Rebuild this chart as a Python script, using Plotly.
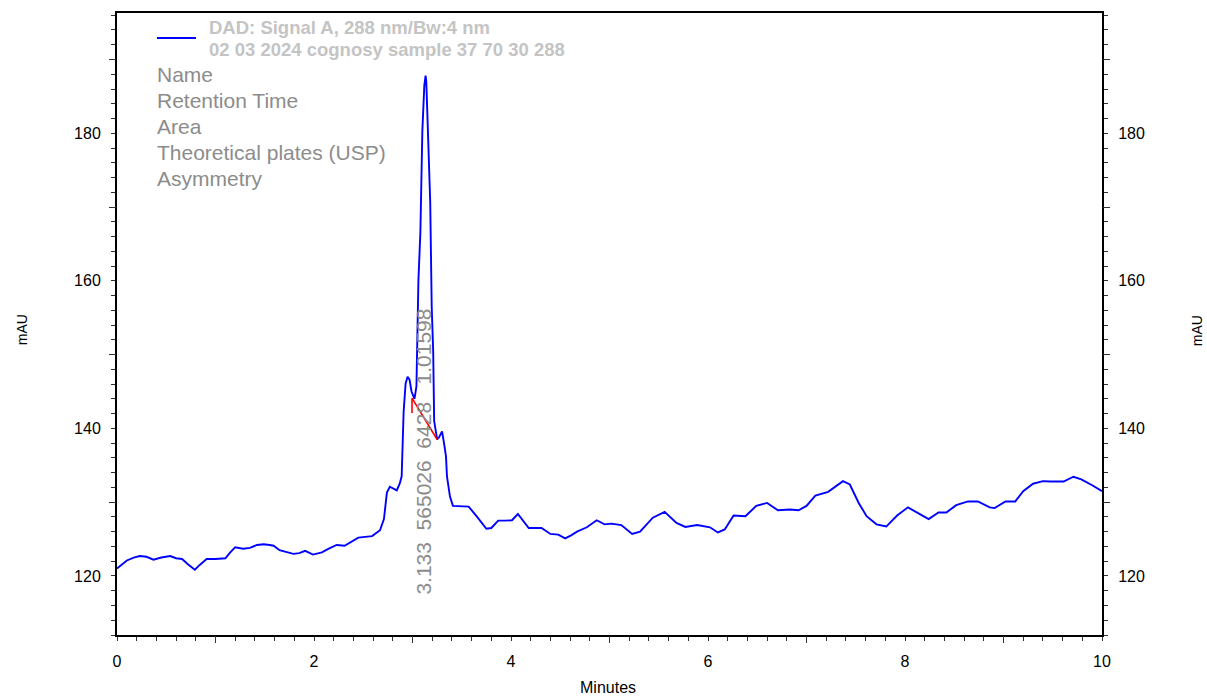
import plotly.graph_objects as go

# ---- data ----
time_min = [0.00, 0.05, 0.10, 0.17, 0.23, 0.30, 0.37, 0.45, 0.54, 0.60, 0.66, 0.72, 0.79, 0.84, 0.91,
            1.00, 1.10, 1.15, 1.20, 1.28, 1.35, 1.42, 1.49, 1.55, 1.59, 1.65, 1.72, 1.79, 1.85, 1.91, 1.99,
            2.08, 2.15, 2.23, 2.31, 2.38, 2.45, 2.52, 2.59, 2.67, 2.71, 2.74, 2.77, 2.84, 2.87, 2.89, 2.91,
            2.93, 2.95, 2.97, 2.99, 3.02, 3.04, 3.06, 3.08, 3.10, 3.12, 3.133, 3.14, 3.15, 3.17, 3.18,
            3.195, 3.21, 3.22, 3.235, 3.25, 3.27, 3.30, 3.32, 3.34, 3.35, 3.38, 3.41, 3.49, 3.57, 3.65,
            3.75, 3.80, 3.87, 3.94, 4.01, 4.07, 4.12, 4.18, 4.31, 4.40, 4.48, 4.55, 4.61, 4.67, 4.77, 4.87,
            4.95, 5.02, 5.12, 5.18, 5.23, 5.31, 5.37, 5.44, 5.56, 5.68, 5.77, 5.89, 6.02, 6.10, 6.17, 6.26,
            6.38, 6.49, 6.60, 6.71, 6.83, 6.92, 7.00, 7.09, 7.22, 7.30, 7.37, 7.44, 7.53, 7.61, 7.71, 7.81,
            7.92, 8.03, 8.12, 8.24, 8.34, 8.42, 8.52, 8.64, 8.74, 8.86, 8.91, 9.02, 9.12, 9.20, 9.30, 9.40,
            9.47, 9.61, 9.71, 9.79, 9.90, 10.00]
signal_mau = [121.0, 121.6, 122.1, 122.5, 122.7, 122.6, 122.2, 122.5, 122.7, 122.4, 122.3, 121.6, 120.85, 121.5, 122.3,
              122.3, 122.4, 123.2, 123.9, 123.7, 123.8, 124.2, 124.3, 124.2, 124.1, 123.5, 123.3, 123.0, 123.1, 123.4, 122.9,
              123.2, 123.7, 124.2, 124.1, 124.7, 125.2, 125.3, 125.4, 126.2, 127.7, 131.3, 132.1, 131.6, 132.5, 133.5, 142.3,
              146.1, 147.0, 146.6, 145.0, 144.0, 145.7, 160.0, 166.6, 180.3, 186.5, 187.8, 187.0, 183.0, 176.0, 170.6,
              156.5, 150.5, 141.0, 139.8, 138.5, 138.8, 139.6, 138.0, 136.2, 133.5, 130.8, 129.5, 129.4, 129.4, 128.1,
              126.4, 126.5, 127.5, 127.5, 127.55, 128.4, 127.5, 126.5, 126.5, 125.7, 125.6, 125.1, 125.5, 126.0, 126.6, 127.55,
              127.0, 127.1, 126.9, 126.2, 125.7, 126.0, 126.9, 127.9, 128.7, 127.2, 126.65, 126.9, 126.6, 125.9, 126.3, 128.2,
              128.1, 129.5, 129.9, 128.9, 129.0, 128.9, 129.5, 130.9, 131.4, 132.2, 132.85, 132.4, 129.9, 128.1, 127.0, 126.7,
              128.2, 129.3, 128.6, 127.7, 128.6, 128.6, 129.6, 130.1, 130.1, 129.3, 129.2, 130.1, 130.1, 131.5, 132.5, 132.85,
              132.8, 132.8, 133.45, 133.1, 132.3, 131.5]

# integration baseline of the peak (drop line + baseline)
baseline_x = [2.995, 2.995, 3.25]
baseline_y = [142.1, 144.1, 138.5]

# peak table values
peak_rt = 3.133
peak_area = 565026
peak_plates = 6428
peak_asym = 1.01598
peak_label_y = 136.8

legend_lines = ["DAD: Signal A, 288 nm/Bw:4 nm", "02 03 2024 cognosy sample 37 70 30 288"]
table_rows = ["Name", "Retention Time", "Area", "Theoretical plates (USP)", "Asymmetry"]

x_labels = [0, 2, 4, 6, 8, 10]
x_long_ticks = [1, 3, 5, 7, 9]
y_labels = [120, 140, 160, 180]
y_long_ticks = [130, 150, 170, 190]
x_range = [0, 10]
y_range = [112.0, 196.3]

FONT = "Arial, Liberation Sans, sans-serif"

fig = go.Figure()
fig.add_trace(go.Scatter(x=time_min, y=signal_mau, mode="lines",
                         line=dict(color="#0000ff", width=1.9), hoverinfo="skip", showlegend=False))
# invisible copies carrying the extra tick axes
for xa, ya in [("x2", "y2"), ("x", "y3"), ("x", "y4")]:
    fig.add_trace(go.Scatter(x=time_min, y=signal_mau, mode="lines", xaxis=xa, yaxis=ya,
                             line=dict(color="rgba(0,0,0,0)", width=0), hoverinfo="skip", showlegend=False))
fig.add_trace(go.Scatter(x=baseline_x, y=baseline_y, mode="lines",
                         line=dict(color="#ff0000", width=1.6), hoverinfo="skip", showlegend=False))

tickfont = dict(family=FONT, size=16, color="#000000")

fig.update_layout(
    width=1207, height=696,
    margin=dict(l=117, r=105, t=13, b=61),
    paper_bgcolor="white", plot_bgcolor="white",
    showlegend=False,
    xaxis=dict(range=x_range, tickvals=x_labels, ticktext=[str(v) for v in x_labels],
               ticks="outside", ticklen=0, tickfont=tickfont, ticklabelstandoff=11,
               showgrid=False, zeroline=False, showline=True, linecolor="#000000", linewidth=2, mirror=True,
               minor=dict(ticks="outside", dtick=0.2, tick0=0, ticklen=4, tickcolor="#333333", tickwidth=1, showgrid=False)),
    xaxis2=dict(range=x_range, overlaying="x", anchor="y", side="bottom", tickvals=x_long_ticks,
                ticks="outside", ticklen=7, tickcolor="#333333", tickwidth=1, showticklabels=False,
                showgrid=False, zeroline=False, showline=False),
    yaxis=dict(range=y_range, tickvals=y_labels, ticktext=[str(v) for v in y_labels],
               ticks="outside", ticklen=0, tickfont=tickfont, ticklabelstandoff=11,
               showgrid=False, zeroline=False, showline=True, linecolor="#000000", linewidth=2, mirror=False,
               minor=dict(ticks="outside", dtick=2, tick0=0, ticklen=4, tickcolor="#333333", tickwidth=1, showgrid=False)),
    yaxis2=dict(range=y_range, overlaying="y", anchor="x2", side="left", tickvals=y_long_ticks,
                ticks="outside", ticklen=7, tickcolor="#333333", tickwidth=1, showticklabels=False,
                showgrid=False, zeroline=False, showline=False),
    yaxis3=dict(range=y_range, overlaying="y", anchor="x", side="right", tickvals=y_labels,
                ticktext=[str(v) for v in y_labels],
                ticks="outside", ticklen=0, tickfont=tickfont, ticklabelstandoff=11,
                showgrid=False, zeroline=False, showline=True, linecolor="#000000", linewidth=2,
                minor=dict(ticks="outside", dtick=2, tick0=0, ticklen=4, tickcolor="#333333", tickwidth=1, showgrid=False)),
    yaxis4=dict(range=y_range, overlaying="y", anchor="x", side="right", tickvals=y_long_ticks,
                ticks="outside", ticklen=7, tickcolor="#333333", tickwidth=1, showticklabels=False,
                showgrid=False, zeroline=False, showline=False),
)

annotations = []
# axis titles
annotations.append(dict(text="mAU", xref="paper", yref="paper", x=-0.0964, y=0.49, showarrow=False,
                        textangle=-90, font=dict(family=FONT, size=14, color="#000000"),
                        xanchor="center", yanchor="middle"))
annotations.append(dict(text="mAU", xref="paper", yref="paper", x=1.0964, y=0.49, showarrow=False,
                        textangle=-90, font=dict(family=FONT, size=14, color="#000000"),
                        xanchor="center", yanchor="middle"))
annotations.append(dict(text="Minutes", xref="paper", yref="paper", x=0.4985, y=-0.0852, showarrow=False,
                        font=dict(family=FONT, size=16, color="#000000"), xanchor="center", yanchor="middle"))
# legend header
for txt, yy in zip(legend_lines, [0.9759, 0.9421]):
    annotations.append(dict(text="<b>" + txt + "</b>", xref="paper", yref="paper", x=0.0918, y=yy,
                            showarrow=False, font=dict(family=FONT, size=18.5, color="#c4c4c4"),
                            xanchor="left", yanchor="middle"))
for txt, yy in zip(table_rows, [0.9019, 0.8601, 0.8183, 0.7765, 0.7347]):
    annotations.append(dict(text=txt, xref="paper", yref="paper", x=0.0386, y=yy,
                            showarrow=False, font=dict(family=FONT, size=21, color="#8c8c8c"),
                            xanchor="left", yanchor="middle"))
# peak label
sp = "\u00a0\u00a0"
peak_text = f"{peak_rt:.3f}{sp}{peak_area}{sp}{peak_plates}{sp}\u00a0{peak_asym}"
annotations.append(dict(text=peak_text, xref="x", yref="y", x=peak_rt, y=peak_label_y, xshift=-3,
                        showarrow=False, textangle=-90, font=dict(family=FONT, size=21, color="#8c8c8c"),
                        xanchor="center", yanchor="middle"))
fig.update_layout(annotations=annotations)

fig.add_shape(type="line", xref="paper", yref="paper", x0=0.0406, x1=0.0802, y0=0.9598, y1=0.9598,
              line=dict(color="#0000ff", width=2))

fig.write_html("out.html")
